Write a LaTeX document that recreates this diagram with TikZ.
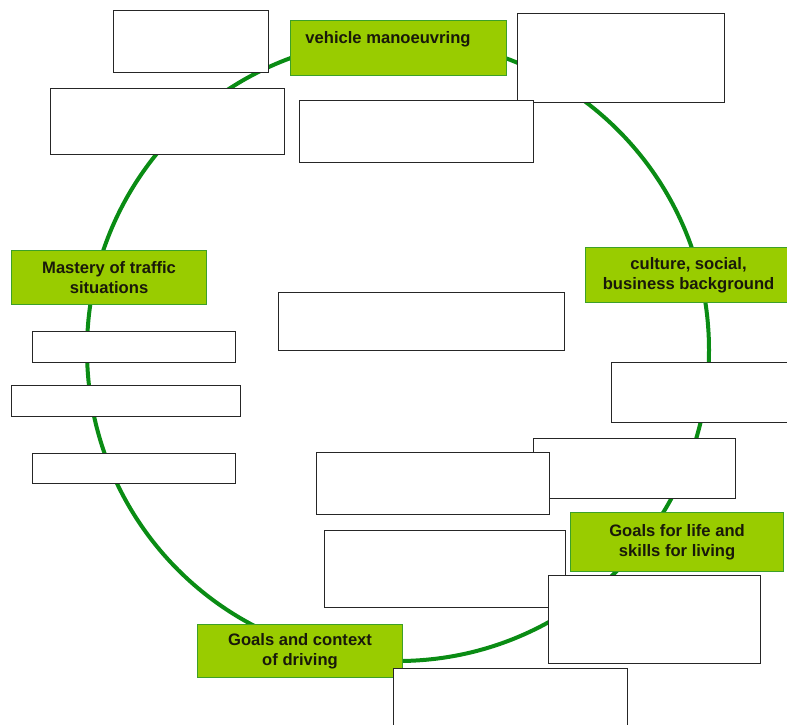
\documentclass[tikz,border=0pt]{standalone}
\usepackage{fontspec}
\setmainfont{Liberation Sans}
\definecolor{ringgreen}{RGB}{10,140,20}
\definecolor{tagfill}{RGB}{153,204,0}
\definecolor{tagline}{RGB}{60,160,40}
\definecolor{tagtext}{RGB}{25,25,10}
\begin{document}
\begin{tikzpicture}[x=1pt,y=-1pt,
  ring/.style={draw=ringgreen,line width=4pt},
  blank/.style={draw=black!85,fill=white,line width=1.2pt,inner sep=0pt,anchor=north west},
  tag/.style={draw=tagline,fill=tagfill,line width=1.1pt,inner sep=0pt,anchor=north west},
  tagtxt/.style={text=tagtext,font=\fontsize{16.6}{19.5}\selectfont\bfseries,align=center,inner sep=0pt}
]
\useasboundingbox (0,0) rectangle (787,724);

% the cycle
\draw[ring] (398,350) circle[radius=311pt];

% empty boxes (drawn in stacking order)
\node[blank,minimum width=155,minimum height=62] (b1) at (113,10) {};
\node[blank,minimum width=234,minimum height=66] (b2) at (50,88) {};
\node[blank,minimum width=207,minimum height=89] (b4) at (517,13) {};
\node[blank,minimum width=234,minimum height=62] (b3) at (299,100) {};
\node[blank,minimum width=286,minimum height=58] (b5) at (278,292) {};
\node[blank,minimum width=203,minimum height=31] (b6) at (32,331) {};
\node[blank,minimum width=229,minimum height=31] (b7) at (11,385) {};
\node[blank,minimum width=203,minimum height=30] (b8) at (32,453) {};
\node[blank,minimum width=180,minimum height=60] (b9) at (611,362) {};
\node[blank,minimum width=202,minimum height=60] (b10) at (533,438) {};
\node[blank,minimum width=233,minimum height=62] (b11) at (316,452) {};
\node[blank,minimum width=241,minimum height=77] (b12) at (324,530) {};
\node[blank,minimum width=212,minimum height=88] (b13) at (548,575) {};

% labelled stages
\node[tag,minimum width=216,minimum height=55] (vm) at (290,20) {};
\node[tagtxt] at (388,39) {vehicle manoeuvring};

\node[tag,minimum width=195,minimum height=54] (mt) at (11,250) {};
\node[tagtxt] at (mt.center) {Mastery of traffic\\situations};

\node[tag,minimum width=206,minimum height=55] (cs) at (585,247) {};
\node[tagtxt] at (cs.center) {culture, social,\\business background};

\node[tag,minimum width=213,minimum height=59] (gl) at (570,512) {};
\node[tagtxt] at (gl.center) {Goals for life and\\skills for living};

\node[tag,minimum width=205,minimum height=53] (gc) at (197,624) {};
\node[tagtxt] at (gc.center) {Goals and context\\of driving};

\node[blank,minimum width=234,minimum height=60] (b14) at (393,668) {};
\end{tikzpicture}
\end{document}
